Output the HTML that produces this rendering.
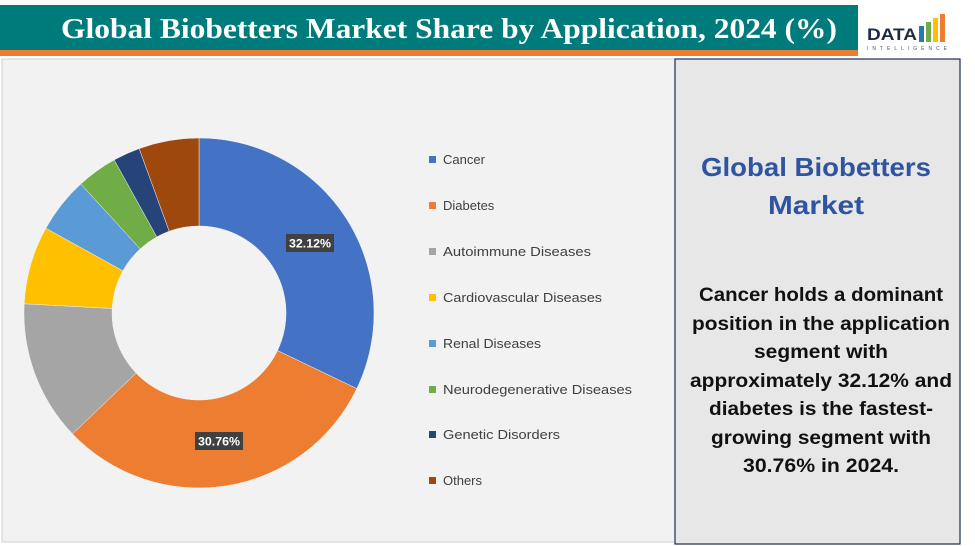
<!DOCTYPE html>
<html><head><meta charset="utf-8"><style>
html,body{margin:0;padding:0;background:#fff;}
svg{display:block;}
</style></head><body>
<svg width="975" height="546" viewBox="0 0 975 546" xmlns="http://www.w3.org/2000/svg">
<rect x="0" y="0" width="975" height="546" fill="#ffffff"/>
<!-- header -->
<rect x="0" y="5" width="858" height="46" fill="#007b7b"/>
<rect x="0" y="50" width="858" height="6" fill="#ed7d31"/>
<text x="449" y="38" text-anchor="middle" fill="#fff" font-family="Liberation Serif, serif" font-weight="bold" font-size="29" textLength="776" lengthAdjust="spacingAndGlyphs">Global Biobetters Market Share by Application, 2024 (%)</text>
<rect x="858" y="5" width="104" height="52" fill="#fff"/>
<text x="867" y="40" fill="#1f2a44" font-family="Liberation Sans, sans-serif" font-weight="bold" font-size="17" textLength="50" lengthAdjust="spacingAndGlyphs">DATA</text>
<rect x="919" y="26" width="5" height="16" fill="#2f75b5"/>
<rect x="926" y="22" width="5" height="20" fill="#70ad47"/>
<rect x="933" y="18" width="5" height="24" fill="#ffc000"/>
<rect x="940" y="14" width="5" height="28" fill="#ed7d31"/>
<text x="867" y="50" fill="#555" font-family="Liberation Sans, sans-serif" font-size="5" textLength="80" lengthAdjust="spacing">INTELLIGENCE</text>
<!-- chart area -->
<rect x="2" y="59" width="673" height="483" fill="#f2f2f2" stroke="#d0d0d0" stroke-width="1"/>
<!-- right panel -->
<rect x="675" y="59" width="285" height="485" fill="#e7e7e7" stroke="#1f2a56" stroke-width="1.2"/>
<g font-family="Liberation Sans, sans-serif" font-weight="bold" text-anchor="middle">
<text x="816" y="176" fill="#2f55a0" font-size="26" textLength="230" lengthAdjust="spacingAndGlyphs">Global Biobetters</text>
<text x="816" y="214" fill="#2f55a0" font-size="26" textLength="96" lengthAdjust="spacingAndGlyphs">Market</text>
<g fill="#111" font-size="19">
<text x="821" y="301" textLength="244" lengthAdjust="spacingAndGlyphs">Cancer holds a dominant</text>
<text x="821" y="330" textLength="258" lengthAdjust="spacingAndGlyphs">position in the application</text>
<text x="821" y="358" textLength="134" lengthAdjust="spacingAndGlyphs">segment with</text>
<text x="821" y="387" textLength="262" lengthAdjust="spacingAndGlyphs">approximately 32.12% and</text>
<text x="821" y="415" textLength="224" lengthAdjust="spacingAndGlyphs">diabetes is the fastest-</text>
<text x="821" y="444" textLength="220" lengthAdjust="spacingAndGlyphs">growing segment with</text>
<text x="821" y="472" textLength="156" lengthAdjust="spacingAndGlyphs">30.76% in 2024.</text>
</g>
</g>
<!-- donut -->
<g stroke="#f2f2f2" stroke-width="0.5">
<path d="M199,138 A175,175 0 0 1 356.8,388.6 L277.5,350.6 A87,87 0 0 0 199,226 Z" fill="#4472c4"/>
<path d="M356.8,388.6 A175,175 0 0 1 72.5,433.9 L136.1,373.1 A87,87 0 0 0 277.5,350.6 Z" fill="#ed7d31"/>
<path d="M72.5,433.9 A175,175 0 0 1 24.2,303.8 L112.1,308.4 A87,87 0 0 0 136.1,373.1 Z" fill="#a5a5a5"/>
<path d="M24.2,303.8 A175,175 0 0 1 45.9,228.2 L122.9,270.8 A87,87 0 0 0 112.1,308.4 Z" fill="#ffc000"/>
<path d="M45.9,228.2 A175,175 0 0 1 80.8,184 L140.2,248.9 A87,87 0 0 0 122.9,270.8 Z" fill="#5b9bd5"/>
<path d="M80.8,184 A175,175 0 0 1 114.2,159.9 L156.8,236.9 A87,87 0 0 0 140.2,248.9 Z" fill="#70ad47"/>
<path d="M114.2,159.9 A175,175 0 0 1 139.2,148.6 L169.2,231.2 A87,87 0 0 0 156.8,236.9 Z" fill="#264478"/>
<path d="M139.2,148.6 A175,175 0 0 1 199,138 L199,226 A87,87 0 0 0 169.2,231.2 Z" fill="#9e480e"/>
</g>
<g font-family="Liberation Sans, sans-serif" font-weight="bold" font-size="12" fill="#fff" text-anchor="middle">
<rect x="286" y="234" width="48" height="18" fill="#404040"/>
<text x="310" y="247.5" textLength="42" lengthAdjust="spacingAndGlyphs">32.12%</text>
<rect x="195" y="432" width="48" height="18" fill="#404040"/>
<text x="219" y="445.5" textLength="42" lengthAdjust="spacingAndGlyphs">30.76%</text>
</g>
<!-- legend -->
<g font-family="Liberation Sans, sans-serif" font-size="13" fill="#404040">
<rect x="429" y="156" width="7" height="7" fill="#4472c4"/><text x="443" y="164">Cancer</text>
<rect x="429" y="202" width="7" height="7" fill="#ed7d31"/><text x="443" y="210">Diabetes</text>
<rect x="429" y="248" width="7" height="7" fill="#a5a5a5"/><text x="443" y="256" textLength="148" lengthAdjust="spacingAndGlyphs">Autoimmune Diseases</text>
<rect x="429" y="294" width="7" height="7" fill="#ffc000"/><text x="443" y="302" textLength="159" lengthAdjust="spacingAndGlyphs">Cardiovascular Diseases</text>
<rect x="429" y="340" width="7" height="7" fill="#5b9bd5"/><text x="443" y="348" textLength="98" lengthAdjust="spacingAndGlyphs">Renal Diseases</text>
<rect x="429" y="386" width="7" height="7" fill="#70ad47"/><text x="443" y="394" textLength="189" lengthAdjust="spacingAndGlyphs">Neurodegenerative Diseases</text>
<rect x="429" y="431" width="7" height="7" fill="#264478"/><text x="443" y="439" textLength="117" lengthAdjust="spacingAndGlyphs">Genetic Disorders</text>
<rect x="429" y="477" width="7" height="7" fill="#9e480e"/><text x="443" y="485">Others</text>
</g>
</svg>
</body></html>
